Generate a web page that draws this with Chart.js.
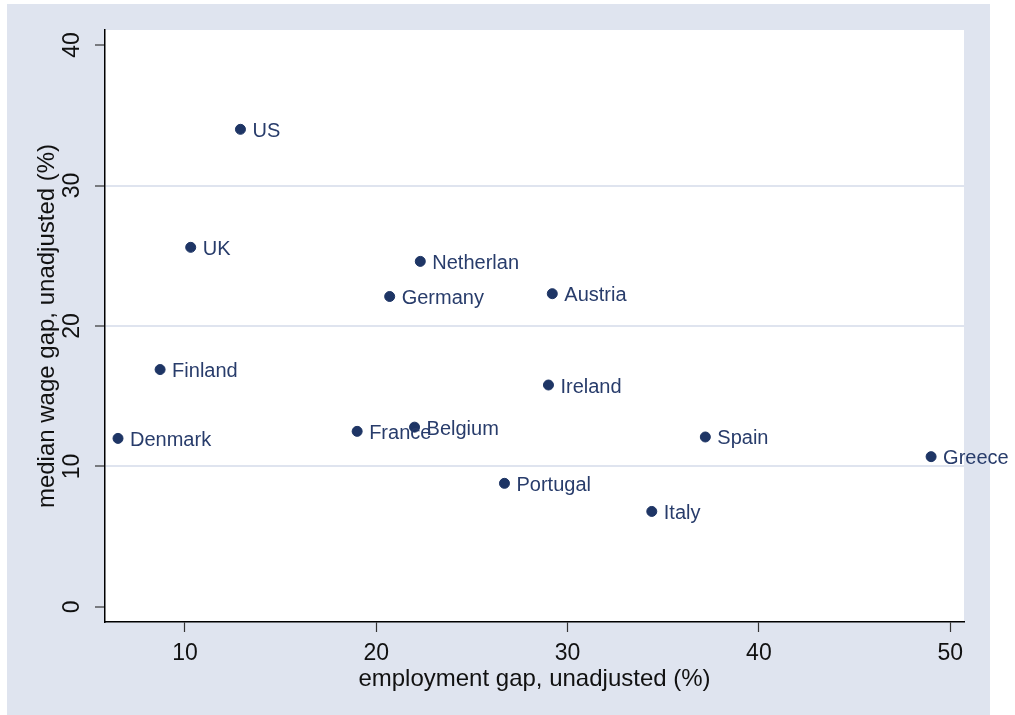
<!DOCTYPE html>
<html>
<head>
<meta charset="utf-8">
<script src="https://cdn.jsdelivr.net/npm/chart.js@4.4.1/dist/chart.umd.min.js"></script>
<style>
html,body{margin:0;padding:0;background:#fff;}
#wrap{width:1015px;height:715px;position:relative;}
</style>
</head>
<body>
<div id="wrap"><canvas id="c" width="1015" height="715"></canvas></div>
<script>
const countries = ["US","UK","Netherlan","Germany","Austria","Finland","Ireland","Denmark","France","Belgium","Spain","Greece","Portugal","Italy"];
const employmentGap = [12.9,10.3,22.3,20.7,29.2,8.7,29.0,6.5,19.0,22.0,37.2,49.0,26.7,34.4];
const wageGap = [34.0,25.6,24.6,22.1,22.3,16.9,15.8,12.0,12.5,12.8,12.1,10.7,8.8,6.8];
const xTitle = "employment gap, unadjusted (%)";
const yTitle = "median wage gap, unadjusted (%)";

const FONT = "'Liberation Sans', Arial, sans-serif";
const LAV = "#dfe4ef";
const NAVY = "#1e3565";
const LABELC = "#283c6b";

const points = employmentGap.map((x,i)=>({x:x, y:wageGap[i]}));

const bgPlugin = {
  id:'bg',
  beforeDraw(chart){
    const ctx = chart.ctx, a = chart.chartArea;
    ctx.save();
    ctx.fillStyle = '#ffffff';
    ctx.fillRect(0,0,chart.width,chart.height);
    ctx.fillStyle = LAV;
    ctx.fillRect(7,4,983,711);
    ctx.fillStyle = '#ffffff';
    ctx.fillRect(a.left,a.top,a.right-a.left,a.bottom-a.top);
    ctx.restore();
  }
};

const labelPlugin = {
  id:'labels',
  afterDatasetsDraw(chart){
    const ctx = chart.ctx;
    const meta = chart.getDatasetMeta(0);
    ctx.save();
    ctx.font = "20px " + FONT;
    ctx.fillStyle = LABELC;
    ctx.textAlign = 'left';
    ctx.textBaseline = 'middle';
    meta.data.forEach((el,i)=>{
      ctx.fillText(countries[i], el.x + 12, el.y + 2);
    });
    ctx.restore();
  }
};

new Chart(document.getElementById('c'), {
  type:'scatter',
  data:{datasets:[{
    data: points,
    pointRadius:5,
    pointHoverRadius:5,
    pointBackgroundColor:NAVY,
    pointBorderColor:NAVY,
    pointBorderWidth:1
  }]},
  options:{
    responsive:false,
    animation:false,
    events:[],
    layout:{padding:{left:0,top:30,right:51,bottom:0}},
    plugins:{legend:{display:false},tooltip:{enabled:false}},
    scales:{
      x:{
        type:'linear',
        min:5.82, max:50.72,
        afterFit(s){ s.height = 93; },
        border:{display:true,color:'#000',width:1.5},
        grid:{display:true,drawOnChartArea:false,drawTicks:true,tickLength:10,tickColor:'#333',tickWidth:1.2},
        ticks:{stepSize:10,includeBounds:false,color:'#111',font:{family:FONT,size:23},padding:8,maxRotation:0,minRotation:0},
        title:{display:true,text:xTitle,color:'#111',font:{family:FONT,size:24},padding:{top:0,bottom:21}}
      },
      y:{
        type:'linear',
        min:-1.07, max:41.07,
        afterFit(s){ s.width = 105; },
        border:{display:true,color:'#000',width:1.5},
        grid:{
          display:true,
          color:(c)=> (c.tick && c.tick.value>0 && c.tick.value<40) ? LAV : 'rgba(0,0,0,0)',
          lineWidth:2,
          drawTicks:true,tickLength:10,tickColor:'#333',tickWidth:1.2
        },
        ticks:{stepSize:10,includeBounds:false,color:'#111',font:{family:FONT,size:23},padding:10,crossAlign:'center',minRotation:90,maxRotation:90},
        title:{display:true,text:yTitle,color:'#111',font:{family:FONT,size:24},padding:{top:33,bottom:0}}
      }
    }
  },
  plugins:[bgPlugin,labelPlugin]
});
</script>
</body>
</html>
